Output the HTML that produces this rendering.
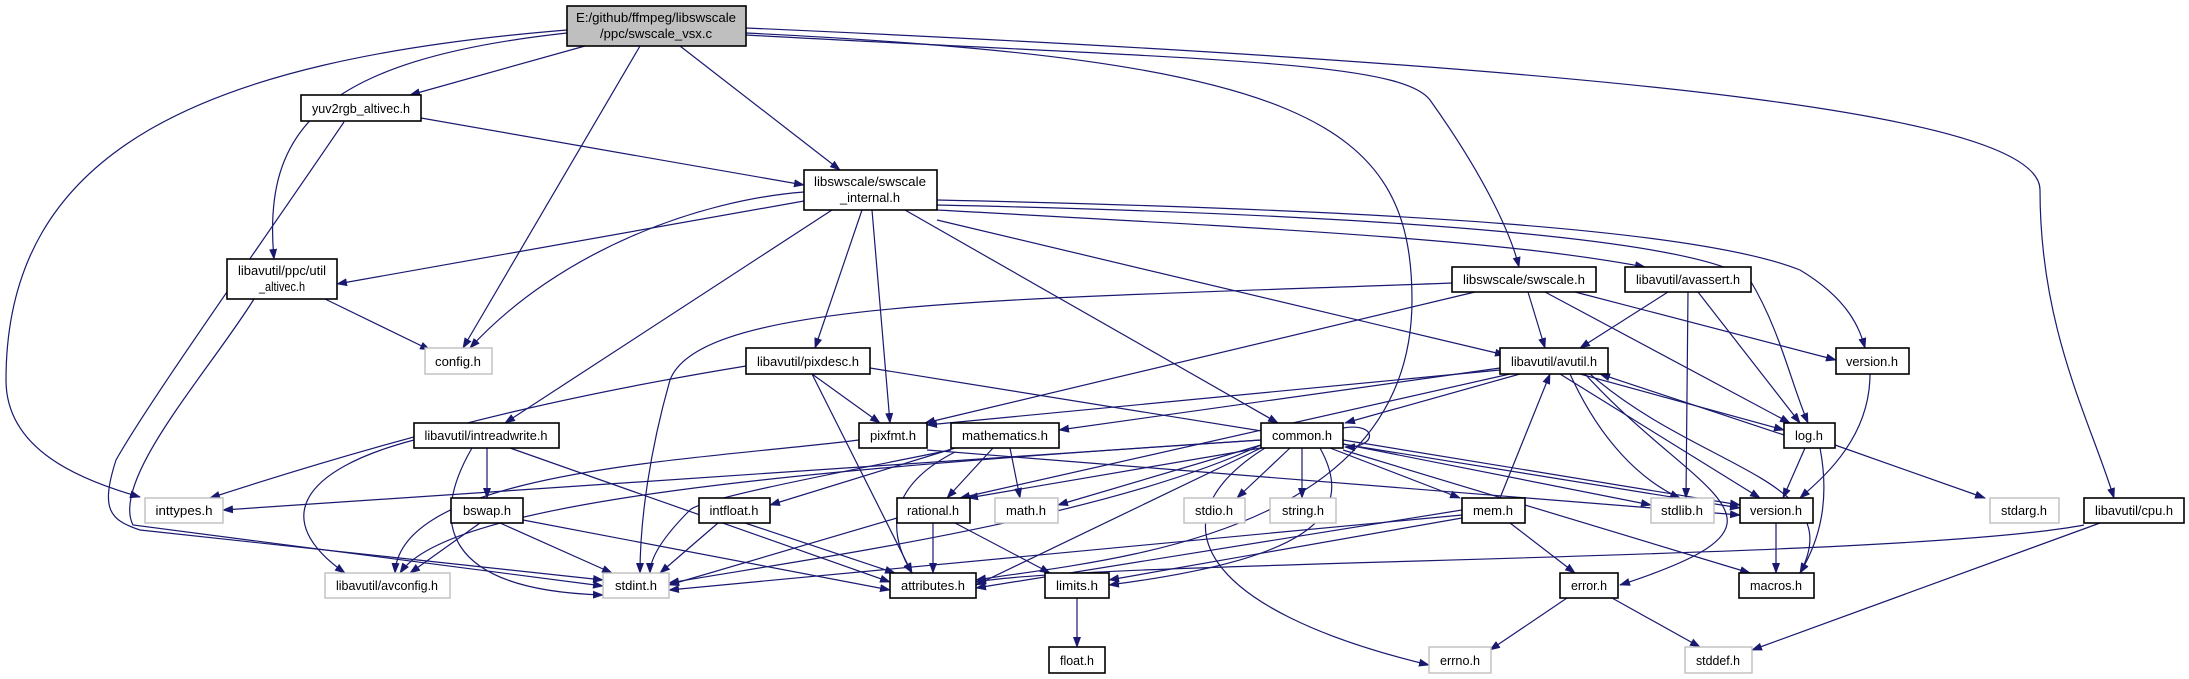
<!DOCTYPE html>
<html><head><meta charset="utf-8"><style>
html,body{margin:0;padding:0;background:#fff;}
svg{display:block}
text{font-family:"Liberation Sans",sans-serif;font-size:13px;fill:#000;text-anchor:middle}
.e{fill:none;stroke:#191970;stroke-width:1.2;marker-end:url(#a)}
.n{fill:#fff;stroke:#000;stroke-width:1.6}
.g{fill:#fff;stroke:#bfbfbf;stroke-width:1.4}
</style></head><body>
<svg width="2189" height="679" viewBox="0 0 2189 679" xmlns="http://www.w3.org/2000/svg">
<defs><marker id="a" markerWidth="11" markerHeight="8" refX="10" refY="4" orient="auto" markerUnits="userSpaceOnUse"><path d="M0,0 L11,4 L0,8 z" fill="#191970"/></marker></defs>
<rect width="2189" height="679" fill="#fff"/>
<g>
<path class="e" d="M585,46 L410,95"/>
<path class="e" d="M680,46 L840,170"/>
<path class="e" d="M567,33 C320,60 262,130 274,259"/>
<path class="e" d="M567,30 C200,60 6,150 6,380 C6,450 80,480 140,497"/>
<path class="e" d="M640,46 L463,348"/>
<path class="e" d="M746,33 C1300,60 1412,120 1412,300 C1412,540 1100,560 976,580"/>
<path class="e" d="M746,35 C1200,60 1400,60 1430,100 C1480,170 1510,230 1519,267"/>
<path class="e" d="M746,28 C1700,70 2040,120 2040,190 C2040,330 2090,420 2114,498"/>
<path class="e" d="M421,118 L804,185"/>
<path class="e" d="M344,122 C250,260 150,400 116,460 C100,510 110,520 140,530 L603,580"/>
<path class="e" d="M254,299 C210,370 110,480 133,525 L603,586"/>
<path class="e" d="M325,299 L430,350"/>
<path class="e" d="M804,201 L337,284"/>
<path class="e" d="M804,192 C700,200 560,250 470,348"/>
<path class="e" d="M832,210 L505,423"/>
<path class="e" d="M862,210 L815,348"/>
<path class="e" d="M872,210 L890,423"/>
<path class="e" d="M905,210 L1278,423"/>
<path class="e" d="M937,220 L1505,355"/>
<path class="e" d="M937,210 C1300,230 1500,240 1645,267"/>
<path class="e" d="M937,205 C1400,215 1700,240 1750,280 C1780,330 1790,380 1808,423"/>
<path class="e" d="M937,200 C1400,210 1700,230 1800,270 C1850,300 1860,330 1865,348"/>
<path class="e" d="M1452,283 C1000,300 700,300 670,380 C650,450 640,520 640,573"/>
<path class="e" d="M1475,292 L925,423"/>
<path class="e" d="M1528,292 L1545,348"/>
<path class="e" d="M1545,292 L1790,423"/>
<path class="e" d="M1575,292 L1836,360"/>
<path class="e" d="M1668,292 L1580,348"/>
<path class="e" d="M1688,292 L1686,498"/>
<path class="e" d="M1698,292 L1800,423"/>
<path class="e" d="M746,366 C600,390 450,420 210,498"/>
<path class="e" d="M812,374 L880,423"/>
<path class="e" d="M812,374 L912,573"/>
<path class="e" d="M870,368 L1740,508"/>
<path class="e" d="M1500,370 L927,425"/>
<path class="e" d="M1500,368 L1059,430"/>
<path class="e" d="M1520,374 L1345,423"/>
<path class="e" d="M1510,374 L960,498"/>
<path class="e" d="M1560,374 L1760,498"/>
<path class="e" d="M1580,374 L1784,430"/>
<path class="e" d="M1784,435 L1600,374"/>
<path class="e" d="M1585,374 C1700,500 1820,520 1620,585"/>
<path class="e" d="M1590,374 C1700,470 1850,480 1800,573"/>
<path class="e" d="M1570,374 C1600,440 1640,480 1680,498"/>
<path class="e" d="M414,440 C300,470 270,520 345,573"/>
<path class="e" d="M472,448 C430,520 440,590 603,595"/>
<path class="e" d="M487,448 L487,498"/>
<path class="e" d="M510,448 L890,582"/>
<path class="e" d="M859,440 C700,460 400,470 395,573"/>
<path class="e" d="M927,450 L1740,515"/>
<path class="e" d="M955,448 L770,505"/>
<path class="e" d="M993,448 L947,498"/>
<path class="e" d="M1010,448 L1020,498"/>
<path class="e" d="M955,452 C900,480 880,520 912,573"/>
<path class="e" d="M951,450 C800,480 700,500 690,510 C660,540 650,560 650,573"/>
<path class="e" d="M1261,440 L223,510"/>
<path class="e" d="M1261,440 C800,470 450,500 400,573"/>
<path class="e" d="M1261,445 C1100,520 800,560 669,583"/>
<path class="e" d="M1261,448 L976,585"/>
<path class="e" d="M1290,448 L1237,498"/>
<path class="e" d="M1302,448 L1302,498"/>
<path class="e" d="M1330,448 L1460,498"/>
<path class="e" d="M1343,444 L1651,505"/>
<path class="e" d="M1343,440 L1740,505"/>
<path class="e" d="M1343,450 L1750,573"/>
<path class="e" d="M1265,448 C1150,520 1200,610 1429,665"/>
<path class="e" d="M1261,445 L1058,505"/>
<path class="e" d="M1261,448 L968,498"/>
<path class="e" d="M1320,448 C1360,520 1300,560 1109,585"/>
<path class="e" d="M1343,428 C1378,422 1378,448 1345,447"/>
<path class="e" d="M1500,498 L1550,374"/>
<path class="e" d="M1462,510 L976,588"/>
<path class="e" d="M1510,523 L1575,573"/>
<path class="e" d="M1462,518 L1109,580"/>
<path class="e" d="M1462,515 L669,590"/>
<path class="e" d="M1805,448 L1783,498"/>
<path class="e" d="M1835,445 L1985,498"/>
<path class="e" d="M1820,448 C1830,500 1820,540 1800,573"/>
<path class="e" d="M1870,374 C1870,440 1820,480 1800,498"/>
<path class="e" d="M1776,523 L1776,573"/>
<path class="e" d="M480,523 L410,573"/>
<path class="e" d="M500,523 L612,573"/>
<path class="e" d="M523,520 L890,590"/>
<path class="e" d="M718,523 L660,573"/>
<path class="e" d="M745,523 L895,573"/>
<path class="e" d="M897,518 L669,585"/>
<path class="e" d="M933,523 L933,573"/>
<path class="e" d="M955,523 L1050,573"/>
<path class="e" d="M2084,525 C1900,560 1100,560 976,582"/>
<path class="e" d="M2100,523 L1752,650"/>
<path class="e" d="M1567,598 L1490,650"/>
<path class="e" d="M1612,598 L1700,647"/>
<path class="e" d="M1077,598 L1077,647"/>
</g>
<g>
<rect x="567" y="6" width="179" height="40" fill="#bfbfbf" stroke="#000" stroke-width="1.6"/>
<text x="656" y="22" textLength="160" lengthAdjust="spacingAndGlyphs">E:/github/ffmpeg/libswscale</text>
<text x="656" y="38" textLength="112" lengthAdjust="spacingAndGlyphs">/ppc/swscale_vsx.c</text>

<rect class="n" x="301" y="95" width="120" height="26"/><text x="361" y="113" textLength="98" lengthAdjust="spacingAndGlyphs">yuv2rgb_altivec.h</text>
<rect class="n" x="804" y="170" width="133" height="40"/><text x="870" y="186" textLength="112" lengthAdjust="spacingAndGlyphs">libswscale/swscale</text><text x="870" y="202" textLength="60" lengthAdjust="spacingAndGlyphs">_internal.h</text>
<rect class="n" x="227" y="259" width="110" height="40"/><text x="282" y="275" textLength="88" lengthAdjust="spacingAndGlyphs">libavutil/ppc/util</text><text x="282" y="291" textLength="46" lengthAdjust="spacingAndGlyphs">_altivec.h</text>
<rect class="n" x="1452" y="267" width="144" height="25"/><text x="1524" y="284" textLength="122" lengthAdjust="spacingAndGlyphs">libswscale/swscale.h</text>
<rect class="n" x="1625" y="267" width="126" height="25"/><text x="1688" y="284" textLength="104" lengthAdjust="spacingAndGlyphs">libavutil/avassert.h</text>
<rect class="g" x="425" y="348" width="67" height="26"/><text x="458" y="366" textLength="46" lengthAdjust="spacingAndGlyphs">config.h</text>
<rect class="n" x="746" y="348" width="124" height="26"/><text x="808" y="366" textLength="102" lengthAdjust="spacingAndGlyphs">libavutil/pixdesc.h</text>
<rect class="n" x="1500" y="348" width="108" height="26"/><text x="1554" y="366" textLength="86" lengthAdjust="spacingAndGlyphs">libavutil/avutil.h</text>
<rect class="n" x="1836" y="348" width="73" height="26"/><text x="1872" y="366" textLength="52" lengthAdjust="spacingAndGlyphs">version.h</text>
<rect class="n" x="414" y="423" width="145" height="25"/><text x="486" y="440" textLength="123" lengthAdjust="spacingAndGlyphs">libavutil/intreadwrite.h</text>
<rect class="n" x="859" y="423" width="68" height="25"/><text x="893" y="440" textLength="46" lengthAdjust="spacingAndGlyphs">pixfmt.h</text>
<rect class="n" x="951" y="423" width="108" height="25"/><text x="1005" y="440" textLength="86" lengthAdjust="spacingAndGlyphs">mathematics.h</text>
<rect class="n" x="1261" y="423" width="82" height="25"/><text x="1302" y="440" textLength="60" lengthAdjust="spacingAndGlyphs">common.h</text>
<rect class="n" x="1784" y="423" width="51" height="25"/><text x="1809" y="440" textLength="28" lengthAdjust="spacingAndGlyphs">log.h</text>
<rect class="g" x="145" y="498" width="78" height="25"/><text x="184" y="515" textLength="57" lengthAdjust="spacingAndGlyphs">inttypes.h</text>
<rect class="n" x="451" y="498" width="72" height="25"/><text x="487" y="515" textLength="48" lengthAdjust="spacingAndGlyphs">bswap.h</text>
<rect class="n" x="699" y="498" width="71" height="25"/><text x="734" y="515" textLength="49" lengthAdjust="spacingAndGlyphs">intfloat.h</text>
<rect class="n" x="897" y="498" width="73" height="25"/><text x="933" y="515" textLength="52" lengthAdjust="spacingAndGlyphs">rational.h</text>
<rect class="g" x="995" y="498" width="63" height="25"/><text x="1026" y="515" textLength="40" lengthAdjust="spacingAndGlyphs">math.h</text>
<rect class="g" x="1184" y="498" width="61" height="25"/><text x="1214" y="515" textLength="38" lengthAdjust="spacingAndGlyphs">stdio.h</text>
<rect class="g" x="1270" y="498" width="66" height="25"/><text x="1303" y="515" textLength="42" lengthAdjust="spacingAndGlyphs">string.h</text>
<rect class="n" x="1462" y="498" width="63" height="25"/><text x="1493" y="515" textLength="40" lengthAdjust="spacingAndGlyphs">mem.h</text>
<rect class="g" x="1651" y="498" width="63" height="25"/><text x="1682" y="515" textLength="42" lengthAdjust="spacingAndGlyphs">stdlib.h</text>
<rect class="n" x="1740" y="498" width="73" height="25"/><text x="1776" y="515" textLength="52" lengthAdjust="spacingAndGlyphs">version.h</text>
<rect class="g" x="1990" y="498" width="69" height="25"/><text x="2024" y="515" textLength="46" lengthAdjust="spacingAndGlyphs">stdarg.h</text>
<rect class="n" x="2084" y="498" width="100" height="25"/><text x="2134" y="515" textLength="78" lengthAdjust="spacingAndGlyphs">libavutil/cpu.h</text>
<rect class="g" x="325" y="573" width="125" height="25"/><text x="387" y="590" textLength="102" lengthAdjust="spacingAndGlyphs">libavutil/avconfig.h</text>
<rect class="g" x="603" y="573" width="66" height="25"/><text x="636" y="590" textLength="42" lengthAdjust="spacingAndGlyphs">stdint.h</text>
<rect class="n" x="890" y="573" width="86" height="25"/><text x="933" y="590" textLength="64" lengthAdjust="spacingAndGlyphs">attributes.h</text>
<rect class="n" x="1045" y="573" width="64" height="25"/><text x="1077" y="590" textLength="42" lengthAdjust="spacingAndGlyphs">limits.h</text>
<rect class="n" x="1560" y="573" width="58" height="25"/><text x="1589" y="590" textLength="36" lengthAdjust="spacingAndGlyphs">error.h</text>
<rect class="n" x="1739" y="573" width="75" height="25"/><text x="1776" y="590" textLength="52" lengthAdjust="spacingAndGlyphs">macros.h</text>
<rect class="n" x="1049" y="647" width="56" height="26"/><text x="1077" y="665" textLength="34" lengthAdjust="spacingAndGlyphs">float.h</text>
<rect class="g" x="1429" y="647" width="62" height="26"/><text x="1460" y="665" textLength="40" lengthAdjust="spacingAndGlyphs">errno.h</text>
<rect class="g" x="1685" y="647" width="67" height="26"/><text x="1718" y="665" textLength="44" lengthAdjust="spacingAndGlyphs">stddef.h</text>
</g>
</svg>
</body></html>
